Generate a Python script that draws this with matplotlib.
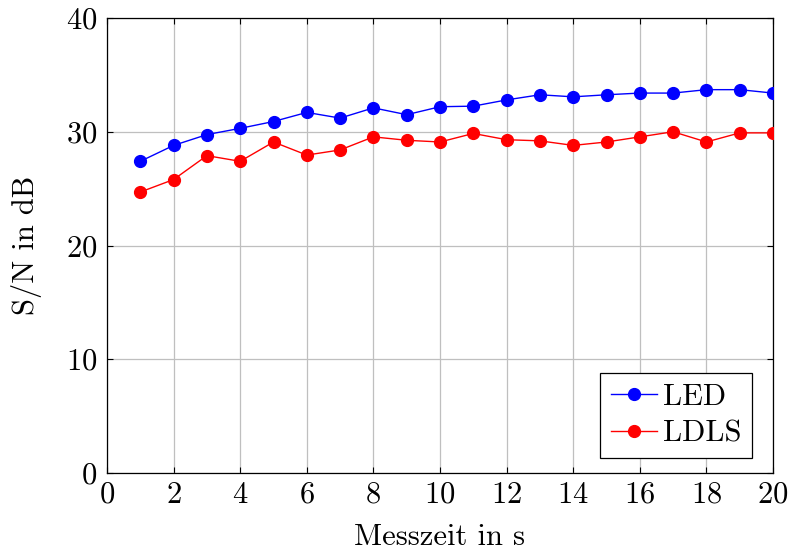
import matplotlib
matplotlib.use("Agg")
import matplotlib.pyplot as plt

plt.rcParams['font.family'] = ['cmr10', 'DejaVu Serif']
plt.rcParams['mathtext.fontset'] = 'cm'
plt.rcParams['axes.formatter.use_mathtext'] = True

x = list(range(1, 21))
led = [27.4, 28.8, 29.75, 30.3, 30.9, 31.7, 31.2, 32.1, 31.5, 32.2,
       32.25, 32.8, 33.25, 33.07, 33.25, 33.4, 33.4, 33.7, 33.7, 33.4]
ldls = [24.7, 25.8, 27.9, 27.4, 29.1, 27.95, 28.4, 29.55, 29.25, 29.1,
        29.85, 29.3, 29.2, 28.8, 29.1, 29.55, 30.0, 29.1, 29.9, 29.9]
xticks = list(range(0, 21, 2))
yticks = [0, 10, 20, 30, 40]

FS = 22
W, H = 789, 550

fig = plt.figure(figsize=(W/100, H/100), dpi=100)
ax = fig.add_axes([107/W, 1-473/H, (773-107)/W, (473-18)/H])

ax.plot(x, led, color='blue', lw=1.0, marker='o', ms=8.5, label='LED', zorder=3)
ax.plot(x, ldls, color='red', lw=1.0, marker='o', ms=8.5, label='LDLS', zorder=3)

ax.set_xlim(0, 20)
ax.set_ylim(0, 40)
ax.set_xticks(xticks)
ax.set_yticks(yticks)
ax.grid(True, color='#bfbfbf', lw=0.9)
ax.set_axisbelow(True)
ax.tick_params(direction='in', top=True, right=True, length=4, width=0.8,
               labelsize=FS)
ax.tick_params(axis='x', pad=6)
ax.tick_params(axis='y', pad=7)
for s in ax.spines.values():
    s.set_linewidth(0.9)

ax.set_xlabel('Messzeit in s', fontsize=FS, labelpad=11)
ax.set_ylabel('S/N in dB', fontsize=FS, labelpad=17)

leg = ax.legend(loc='lower right', bbox_to_anchor=(752/W, 1-458/H),
                bbox_transform=fig.transFigure, borderaxespad=0,
                fontsize=FS, fancybox=False, edgecolor='black',
                framealpha=1, borderpad=0.35, handlelength=1.5, handletextpad=0.2,
                labelspacing=0.3)
leg.get_frame().set_linewidth(0.9)

fig.savefig('out.png', dpi=100)
